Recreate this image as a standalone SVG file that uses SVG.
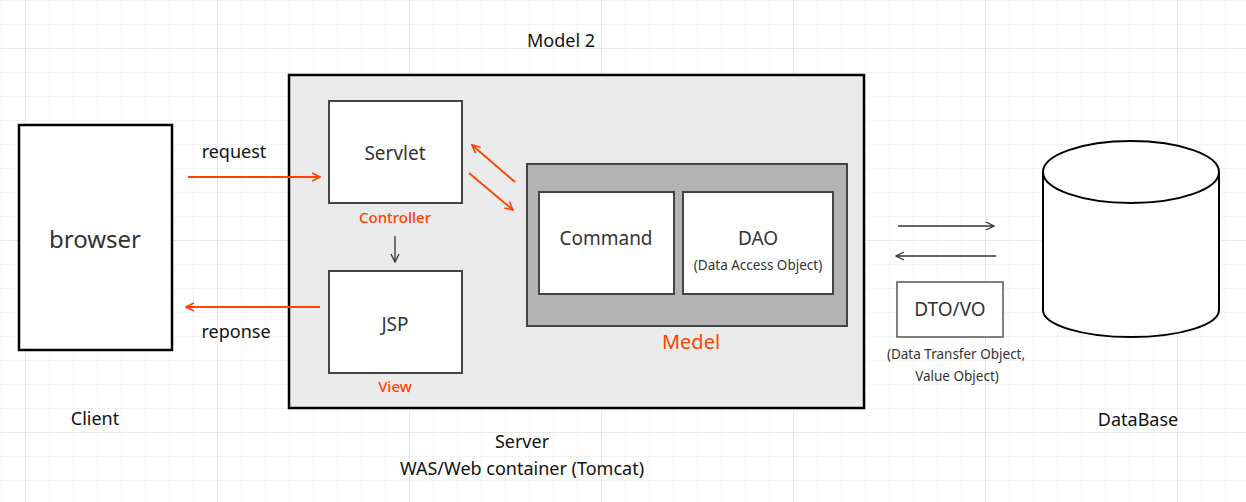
<svg xmlns="http://www.w3.org/2000/svg" width="1246" height="502" viewBox="0 0 1246 502">
<defs>
<pattern id="minor" x="1" y="0" width="24" height="24" patternUnits="userSpaceOnUse">
<path d="M0 0V24M0 0H24" fill="none" stroke="#f1f1f1" stroke-width="1.5"/>
</pattern>
<pattern id="major" x="25" y="48" width="192" height="192" patternUnits="userSpaceOnUse">
<path d="M0 0V192M0 0H192" fill="none" stroke="#e4e4e4" stroke-width="1.5"/>
</pattern>
<marker id="aOr" viewBox="0 0 10 10" refX="9" refY="5" markerWidth="10" markerHeight="10" markerUnits="userSpaceOnUse" orient="auto">
<path d="M1 1L9 5L1 9" fill="none" stroke="#ff4200" stroke-width="1.6"/>
</marker>
<marker id="aBk" viewBox="0 0 10 10" refX="9" refY="5" markerWidth="10" markerHeight="10" markerUnits="userSpaceOnUse" orient="auto">
<path d="M1 1L9 5L1 9" fill="none" stroke="#333" stroke-width="1.3"/>
</marker>
</defs>
<style>
text{font-family:"Noto Sans","Noto Sans CJK KR",sans-serif;text-anchor:middle;dominant-baseline:central}
.lbl{fill:#111;font-size:18px}
.nd{fill:#333;font-size:19px}
.sm{fill:#333;font-size:13.5px}
.or{fill:#ff4200;font-size:15px;font-weight:500}
.box{fill:#fff;stroke:#444;stroke-width:2}
.ol{stroke:#ff4200;stroke-width:1.8;fill:none}
.bl{stroke:#333;stroke-width:1.3;fill:none}
</style>
<rect width="1246" height="502" fill="#fff"/>
<rect width="1246" height="502" fill="url(#minor)"/>
<rect width="1246" height="502" fill="url(#major)"/>

<text class="lbl" x="561" y="40">Model 2</text>

<g id="server">
<rect x="289" y="75" width="575" height="333" fill="#ebebeb" stroke="#000" stroke-width="2.5"/>
<text class="lbl" x="522" y="441">Server</text>
<text class="lbl" x="522" y="468" font-size="19">WAS/Web container (Tomcat)</text>
</g>

<g id="client">
<rect x="19" y="125" width="153" height="225" fill="#fff" stroke="#000" stroke-width="2.5"/>
<text x="95" y="238" fill="#333" font-size="24">browser</text>
<text class="lbl" x="95" y="418">Client</text>
</g>

<g id="servlet">
<rect class="box" x="329" y="101" width="133" height="102"/>
<text class="nd" x="395" y="153">Servlet</text>
<text class="or" x="395" y="217">Controller</text>
</g>

<g id="jsp">
<rect class="box" x="329" y="271" width="133" height="102"/>
<text class="nd" x="395" y="324">JSP</text>
<text class="or" x="395" y="386">View</text>
</g>

<g id="model">
<rect x="527" y="164" width="320" height="162" fill="#b3b3b3" stroke="#444" stroke-width="2"/>
<text x="691" y="341" fill="#ff4200" font-size="20">Medel</text>
</g>

<g id="command">
<rect class="box" x="539" y="192" width="135" height="102"/>
<text class="nd" x="606" y="238">Command</text>
</g>

<g id="dao">
<rect class="box" x="683" y="192" width="150" height="102"/>
<text class="nd" x="758" y="238">DAO</text>
<text class="sm" x="758" y="265">(Data Access Object)</text>
</g>

<g id="dto">
<rect x="897" y="282" width="106" height="55" fill="#fff" stroke="#555" stroke-width="1.5"/>
<text class="nd" x="950" y="309" font-size="20">DTO/VO</text>
<text class="sm" x="956" y="354">(Data Transfer Object,</text>
<text class="sm" x="957" y="376">Value Object)</text>
</g>

<g id="database">
<path d="M1043 172V310A88 27 0 0 0 1219 310V172" fill="#fff" stroke="#000" stroke-width="2"/>
<ellipse cx="1131" cy="172" rx="88" ry="31" fill="#fff" stroke="#000" stroke-width="2"/>
<text class="lbl" x="1138" y="419">DataBase</text>
</g>

<g id="connectors">
<line class="ol" x1="188" y1="177" x2="320" y2="177" marker-end="url(#aOr)"/>
<text class="lbl" x="234" y="151">request</text>
<line class="ol" x1="320" y1="307" x2="186" y2="307" marker-end="url(#aOr)"/>
<text class="lbl" x="236" y="331">reponse</text>
<line class="ol" x1="515" y1="182" x2="472" y2="145" marker-end="url(#aOr)"/>
<line class="ol" x1="469" y1="173" x2="513" y2="210" marker-end="url(#aOr)"/>
<line class="bl" x1="395" y1="236" x2="395" y2="262" marker-end="url(#aBk)"/>
<line class="bl" x1="898" y1="226" x2="994" y2="226" marker-end="url(#aBk)"/>
<line class="bl" x1="996" y1="256" x2="896" y2="256" marker-end="url(#aBk)"/>
</g>
</svg>
